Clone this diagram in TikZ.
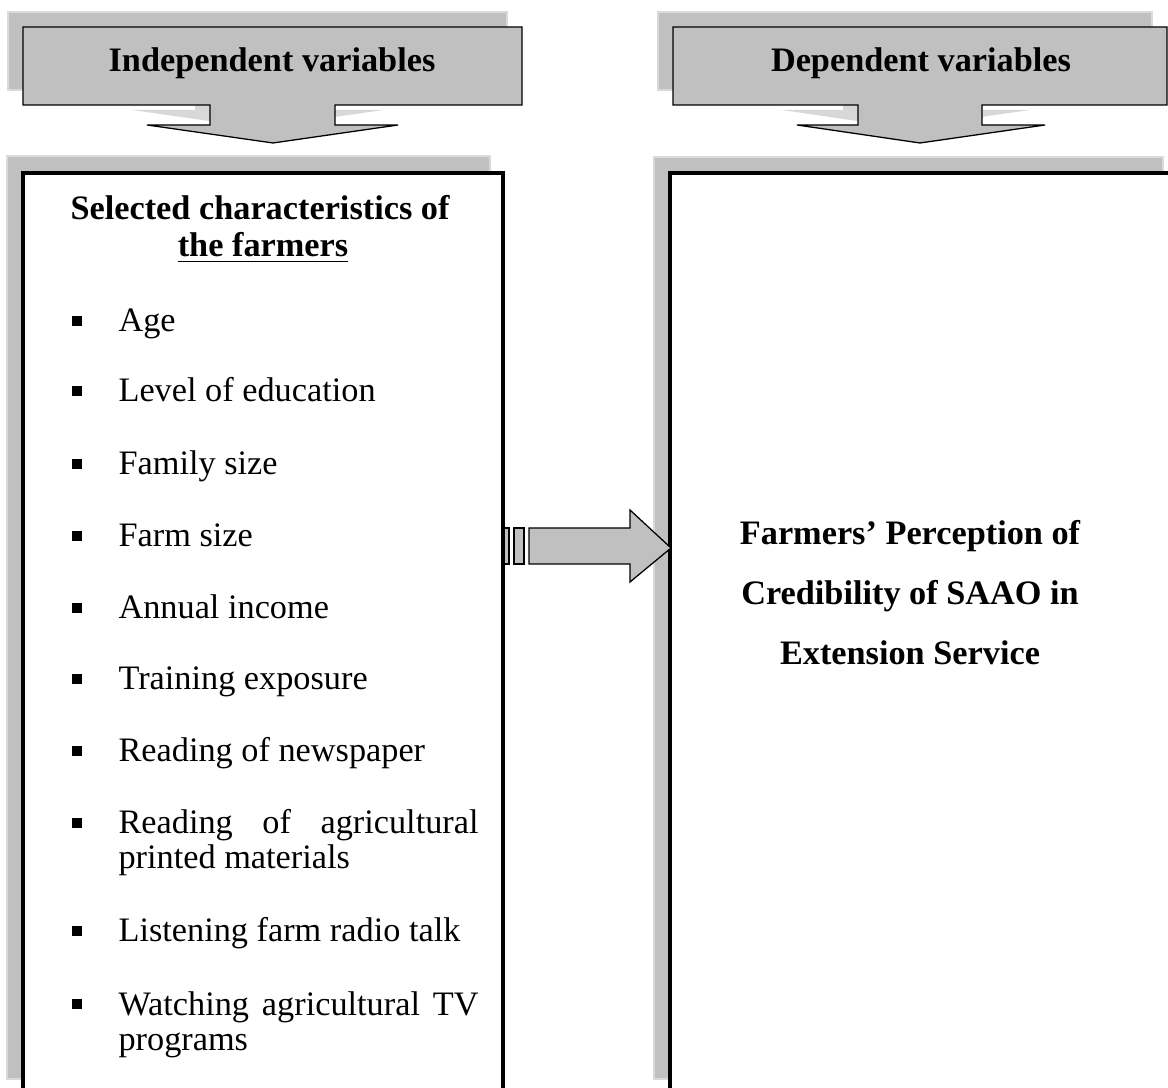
\documentclass[tikz,border=0pt]{standalone}
\usepackage{fontspec}
\setmainfont{Liberation Serif}
\definecolor{boxgray}{HTML}{C0C0C0}
\definecolor{rimgray}{HTML}{DADADA}
\definecolor{wedgegray}{HTML}{D8D8D8}
\tikzset{
  shadowbox/.style={fill=boxgray, draw=rimgray, line width=0.5pt},
  frontbox/.style={fill=white, draw=black, line width=1.2pt},
  callout/.style={fill=boxgray, draw=black, line width=0.45pt},
  bullet/.style={fill=black, inner sep=0pt, minimum size=3.3pt},
  item/.style={anchor=base west, inner sep=0pt, font=\fontsize{12}{12.3}\selectfont},
  head/.style={anchor=base, inner sep=0pt, font=\fontsize{12}{12.3}\selectfont\bfseries}
}
\begin{document}
\begin{tikzpicture}[x=0.35pt, y=-0.35pt]
  \useasboundingbox (0,0) rectangle (1168,1088);
  \clip (0,0) rectangle (1168,1088);
  \draw[shadowbox] (7,156) rectangle (490,1079);
  \draw[shadowbox] (654,157) rectangle (1163,1079);
  \draw[frontbox] (23,173) rectangle (503,1100);
  \draw[frontbox] (670,173) rectangle (1180,1100);
  \begin{scope}[shift={(-15,-15)}]
    \fill[wedgegray] (23,27) -- (522,27) -- (522,105) -- (335,105) -- (335,125) -- (398,125)
      -- (273,143) -- (147,125) -- (210,125) -- (210,105) -- (23,105) -- cycle;
    \fill[wedgegray] (673,27) -- (1167,27) -- (1167,105) -- (982,105) -- (982,125) -- (1045,125)
      -- (920,143) -- (797,125) -- (858,125) -- (858,105) -- (673,105) -- cycle;
    \draw[shadowbox] (23,27) rectangle (522,105);
    \draw[shadowbox] (673,27) rectangle (1167,105);
  \end{scope}
  \draw[callout] (23,27) -- (522,27) -- (522,105) -- (335,105) -- (335,125) -- (398,125)
    -- (273,143) -- (147,125) -- (210,125) -- (210,105) -- (23,105) -- cycle;
  \draw[callout] (673,27) -- (1167,27) -- (1167,105) -- (982,105) -- (982,125) -- (1045,125)
    -- (920,143) -- (797,125) -- (858,125) -- (858,105) -- (673,105) -- cycle;
  \draw[callout] (529,528) -- (630,528) -- (630,510) -- (671,548) -- (630,582) -- (630,564)
    -- (529,564) -- cycle;
  \draw[callout] (504,528) rectangle (509,564);
  \draw[callout] (514,528) rectangle (524,564);
  \node[head] (indep) at (272,72) {Independent variables};
  \node[head] (dep) at (921,72) {Dependent variables};
  \node[head] (sel1) at (260,220) {Selected characteristics of};
  \node[head] (sel2) at (263,257) {\underline{the farmers}};
  \node[head] (perc1) at (910,545) {Farmers’ Perception of};
  \node[head] (perc2) at (910,605) {Credibility of SAAO in};
  \node[head] (perc3) at (910,665) {Extension Service};
  \node[item] (age) at (118,332) {Age};
  \node[item] (edu) at (118,402) {Level of education};
  \node[item] (fam) at (118,475) {Family size};
  \node[item] (farm) at (118,547) {Farm size};
  \node[item] (inc) at (118,619) {Annual income};
  \node[item] (train) at (118,690) {Training exposure};
  \node[item] (news) at (118,762) {Reading of newspaper};
  \node[item] (print) at (118,834) {\makebox[126pt][s]{Reading of agricultural}};
  \node[item] (print2) at (118,869) {printed materials};
  \node[item] (radio) at (118,942) {Listening farm radio talk};
  \node[item] (tv) at (118,1015) {\makebox[126pt][s]{Watching agricultural TV}};
  \node[item] (tv2) at (118,1050) {programs};
  \node[bullet] (b1) at (77,321) {};
  \node[bullet] (b2) at (77,391) {};
  \node[bullet] (b3) at (77,464) {};
  \node[bullet] (b4) at (77,536) {};
  \node[bullet] (b5) at (77,608) {};
  \node[bullet] (b6) at (77,679) {};
  \node[bullet] (b7) at (77,751) {};
  \node[bullet] (b8) at (77,823) {};
  \node[bullet] (b9) at (77,931) {};
  \node[bullet] (b10) at (77,1004) {};
\end{tikzpicture}
\end{document}
